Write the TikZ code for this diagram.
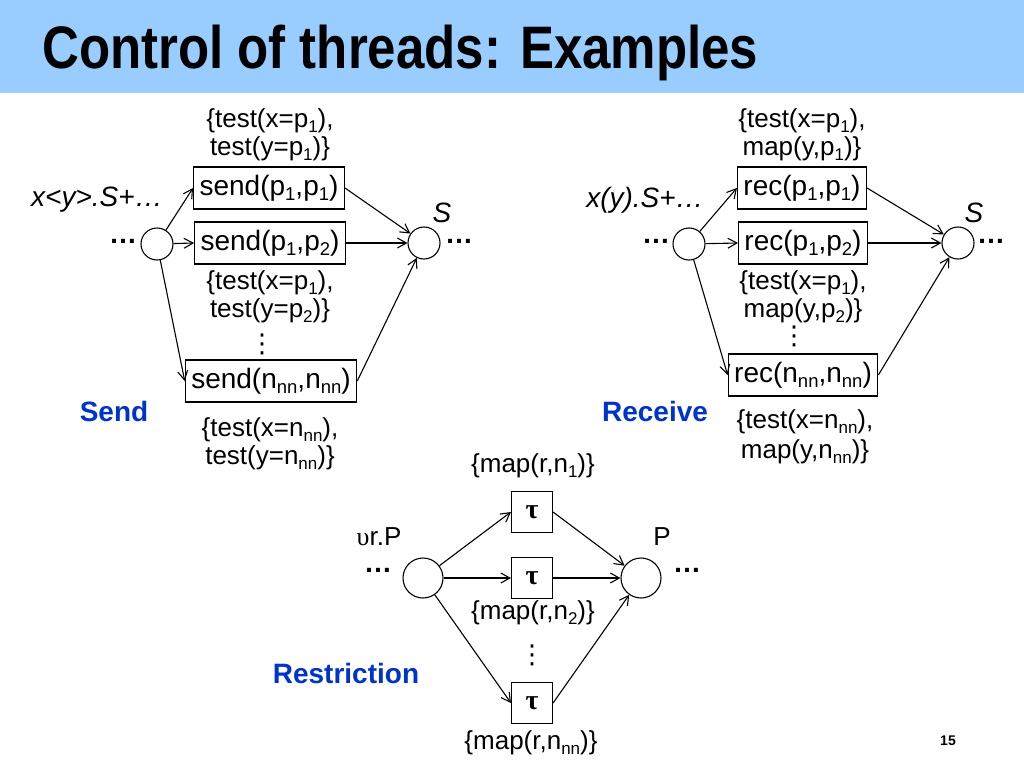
\documentclass[tikz,border=0pt]{standalone}
\usepackage{fontspec}
\setmainfont{Liberation Sans}
\newfontfamily\titlefont[FakeStretch=0.85]{Liberation Sans}
\newfontfamily\dejavu{DejaVu Sans}
\newfontfamily\seriff{Liberation Serif}
\usetikzlibrary{arrows.meta}
\definecolor{titlebg}{RGB}{153,204,255}
\definecolor{labblue}{RGB}{0,51,204}
\newcommand{\sub}[1]{\raisebox{-0.2em}{\fontsize{18.5}{18.5}\selectfont #1}}
\newcommand{\subs}[1]{\raisebox{-0.2em}{\fontsize{17}{17}\selectfont #1}}
\newcommand{\fs}[1]{\fontsize{#1}{#1}\selectfont}
\begin{document}
\begin{tikzpicture}[x=1pt,y=-1pt,
  circ/.style={draw,circle,minimum size=32pt,inner sep=0pt,line width=1.1pt},
  circb/.style={circ,minimum size=40pt},
  box/.style={draw,rectangle,line width=1.1pt,inner xsep=6pt,inner ysep=0pt,minimum height=42pt,font=\fs{28}},
  tbox/.style={draw,line width=1.1pt,minimum size=41pt,inner sep=0pt,font=\seriff\bfseries\fs{28}},
  lab/.style={align=center,font=\fontsize{26}{28}\selectfont,inner sep=0pt},
  labm/.style={align=center,font=\fs{26},inner sep=0pt},
  txt/.style={font=\fs{28},inner sep=0pt},
  head/.style={font=\bfseries\fs{28},text=labblue,inner sep=0pt},
  dots/.style={font=\bfseries\fs{28},inner sep=0pt,anchor=base,text height=5pt,text depth=0pt},
  vdot/.style={font=\dejavu\fs{26},inner sep=0pt},
  arr/.style={-{Straight Barb[length=9pt,width=10pt]},line width=1.1pt}
]
\useasboundingbox (0,0) rectangle (1024,768);
\fill[titlebg] (0,0) rectangle (1024,93);
\node[anchor=base west,inner sep=0pt,font=\titlefont\bfseries\fs{60}] (title) at (42,68) {Control of threads: Examples};

% ---------------- Send
\node[circ] (sa) at (157,244) {};
\node[circ] (sb) at (424,243) {};
\node[box] (s1) at (269,188) {send(p\sub1,p\sub1)};
\node[box] (s2) at (270,243) {send(p\sub1,p\sub2)};
\node[box] (s3) at (271,381) {send(n\sub{nn},n\sub{nn})};
\node[lab] (sl1) at (270,135) {\{test(x=p\subs1),\\test(y=p\subs1)\}};
\node[lab] (sl2) at (270,297) {\{test(x=p\subs1),\\test(y=p\subs2)\}};
\node[lab] (sl3) at (270,444) {\{test(x=n\subs{nn}),\\test(y=n\subs{nn})\}};
\node[vdot] (sv) at (262,344) {⋮};
\node[txt,font=\itshape\fs{28}] (sx) at (97,200) {x<y>.S+…};
\node[txt,font=\itshape\fs{28}] (sS) at (442,213) {S};
\node[dots] (sd1) at (123,243) {…};
\node[dots] (sd2) at (459,243) {…};
\node[head] (send) at (114,411) {Send};
\draw[arr] (sa) -- (s1.west);
\draw[arr] (sa) -- (s2.west);
\draw[arr] (sa) -- (s3.west);
\draw[arr] (s1.east) -- (sb);
\draw[arr] (s2.east) -- (sb);
\draw[arr] (s3.east) -- (sb);

% ---------------- Receive
\node[circ] (ra) at (689,244) {};
\node[circ] (rb) at (958,243) {};
\node[box] (r1) at (802,188) {rec(p\sub1,p\sub1)};
\node[box] (r2) at (803,243) {rec(p\sub1,p\sub2)};
\node[box] (r3) at (803,375) {rec(n\sub{nn},n\sub{nn})};
\node[lab] (rl1) at (802,135) {\{test(x=p\subs1),\\map(y,p\subs1)\}};
\node[lab] (rl2) at (803,297) {\{test(x=p\subs1),\\map(y,p\subs2)\}};
\node[lab,font=\fontsize{26}{30}\selectfont] (rl3) at (805,437) {\{test(x=n\subs{nn}),\\map(y,n\subs{nn})\}};
\node[vdot] (rv) at (794,336) {⋮};
\node[txt,font=\itshape\fs{28}] (rx) at (645,200) {x(y).S+…};
\node[txt,font=\itshape\fs{28}] (rS) at (974,213) {S};
\node[dots] (rd1) at (656,243) {…};
\node[dots] (rd2) at (991,243) {…};
\node[head] (recv) at (655,411) {Receive};
\draw[arr] (ra) -- (r1.west);
\draw[arr] (ra) -- (r2.west);
\draw[arr] (ra) -- (r3.west);
\draw[arr] (r1.east) -- (rb);
\draw[arr] (r2.east) -- (rb);
\draw[arr] (r3.east) -- (rb);

% ---------------- Restriction
\node[circb] (pa) at (423,578) {};
\node[circb] (pb) at (641,578) {};
\node[tbox] (t1) at (532,512) {τ};
\node[tbox] (t2) at (532,578) {τ};
\node[tbox] (t3) at (532,703) {τ};
\node[labm] (tl1) at (533,466) {\{map(r,n\subs1)\}};
\node[labm] (tl2) at (533,613) {\{map(r,n\subs2)\}};
\node[labm] (tl3) at (531,743) {\{map(r,n\subs{nn})\}};
\node[vdot] (tv) at (532,655) {⋮};
\node[txt,font=\fs{26}] (ur) at (379,537) {{\seriff υ}r.P};
\node[txt,font=\fs{26}] (pP) at (662,537) {P};
\node[dots] (pd1) at (378,572) {…};
\node[dots] (pd2) at (687,572) {…};
\node[head] (restr) at (346,673) {Restriction};
\draw[arr] (pa) -- (t1.west);
\draw[arr] (pa) -- (t2.west);
\draw[arr] (pa) -- (t3.west);
\draw[arr] (t1.east) -- (pb);
\draw[arr] (t2.east) -- (pb);
\draw[arr] (t3.east) -- (pb);

\node[font=\bfseries\fs{14},inner sep=0pt] (pg) at (948,741) {15};
\end{tikzpicture}
\end{document}
